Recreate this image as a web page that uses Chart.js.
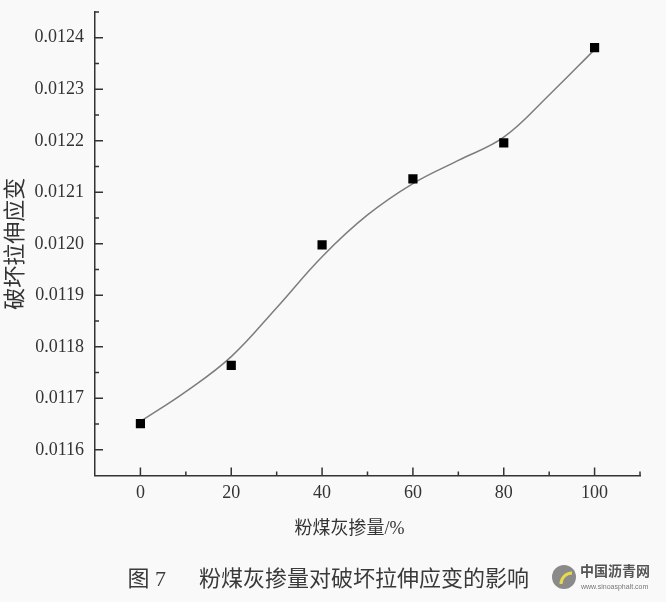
<!DOCTYPE html>
<html>
<head>
<meta charset="utf-8">
<script src="https://cdn.jsdelivr.net/npm/chart.js@4.4.1/dist/chart.umd.min.js"></script>
<style>
  html, body { margin: 0; padding: 0; background: #f9f9f9; }
  #box { width: 666px; height: 602px; }
</style>
</head>
<body>
<div id="box"><canvas id="strainChart"></canvas></div>
<script>
// 粉煤灰掺量 (%) 与破坏拉伸应变
const ashContent = [0, 20, 40, 60, 80, 100]
const strainValues = [0.011651, 0.011764, 0.011998, 0.012126, 0.012196, 0.012381]

// 图中平滑曲线的读数
const curveX = [0, 10, 20, 30, 40, 50, 60, 70, 80, 90, 100]
const curveValues = [
  0.011655, 0.011713, 0.011781, 0.011876, 0.011975, 0.012056, 0.012117,
  0.012162, 0.012207, 0.012289, 0.012377,
]

const xTicks = [0, 20, 40, 60, 80, 100]
const xMinorTicks = [10, 30, 50, 70, 90, 110]
const yTicks = [0.0116, 0.0117, 0.0118, 0.0119, 0.012, 0.0121, 0.0122, 0.0123, 0.0124]
const yMinorTicks = [0.01165, 0.01175, 0.01185, 0.01195, 0.01205, 0.01215, 0.01225, 0.01235, 0.01245]

const serif = "'Liberation Serif', 'Noto Sans CJK SC', serif"
const axisColor = '#333333'

// 刻度线朝内画
const innerTicks = {
  id: 'innerTicks',
  afterDraw(chart) {
    const { ctx, chartArea } = chart
    const xs = chart.scales.x
    const ys = chart.scales.y
    ctx.save()
    ctx.strokeStyle = axisColor
    ctx.lineWidth = 1.5
    ctx.beginPath()
    xTicks.forEach((v) => {
      const px = xs.getPixelForValue(v)
      ctx.moveTo(px, chartArea.bottom)
      ctx.lineTo(px, chartArea.bottom - 8)
    })
    xMinorTicks.forEach((v) => {
      const px = xs.getPixelForValue(v)
      ctx.moveTo(px, chartArea.bottom)
      ctx.lineTo(px, chartArea.bottom - 4)
    })
    yTicks.forEach((v) => {
      const py = ys.getPixelForValue(v)
      ctx.moveTo(chartArea.left, py)
      ctx.lineTo(chartArea.left + 8, py)
    })
    yMinorTicks.forEach((v) => {
      const py = ys.getPixelForValue(v)
      ctx.moveTo(chartArea.left, py)
      ctx.lineTo(chartArea.left + 4, py)
    })
    ctx.stroke()

    // 水印
    ctx.fillStyle = '#8a8a8a'
    ctx.beginPath()
    ctx.arc(564, 577, 12, 0, Math.PI * 2)
    ctx.fill()
    ctx.strokeStyle = '#e8d84a'
    ctx.lineWidth = 3
    ctx.beginPath()
    ctx.arc(572, 584, 11, Math.PI, Math.PI * 1.5)
    ctx.stroke()
    ctx.fillStyle = '#555'
    ctx.font = "bold 14px 'Noto Sans CJK SC'"
    ctx.textBaseline = 'middle'
    ctx.fillText('中国沥青网', 580, 571)
    ctx.font = "7px 'Liberation Sans'"
    ctx.fillStyle = '#777'
    ctx.fillText('www.sinoasphalt.com', 581, 587)
    ctx.restore()
  },
}

const ctx = document.getElementById('strainChart').getContext('2d')

new Chart(ctx, {
  type: 'scatter',
  data: {
    datasets: [
      {
        label: '测试值',
        data: ashContent.map((x, i) => ({ x: x, y: strainValues[i] })),
        pointStyle: 'rect',
        pointRadius: 6.5,
        pointHoverRadius: 6.5,
        backgroundColor: '#000',
        borderColor: '#000',
        borderWidth: 0,
        showLine: false,
        order: 1,
      },
      {
        label: '拟合曲线',
        data: curveX.map((x, i) => ({ x: x, y: curveValues[i] })),
        showLine: true,
        borderColor: '#7d7d7d',
        borderWidth: 1.5,
        pointRadius: 0,
        tension: 0.4,
        fill: false,
        order: 2,
      },
    ],
  },
  options: {
    responsive: true,
    maintainAspectRatio: false,
    animation: false,
    layout: {
      padding: { left: 0, right: 26, top: 12, bottom: 0 },
    },
    plugins: {
      legend: { display: false },
      tooltip: { enabled: false },
      title: {
        display: true,
        position: 'bottom',
        text: '   图 7\u3000  粉煤灰掺量对破坏拉伸应变的影响',
        color: '#3a3a3a',
        font: { family: serif, size: 22, weight: 'normal' },
        padding: { top: 6, bottom: 9 },
      },
    },
    scales: {
      x: {
        type: 'linear',
        min: -10,
        max: 110,
        afterBuildTicks: (scale) => {
          scale.ticks = xTicks.map((v) => ({ value: v }))
        },
        afterFit: (scale) => {
          scale.height = 85
          scale.paddingLeft = 0
          scale.paddingRight = 0
        },
        grid: { display: false, drawTicks: false },
        border: { display: true, color: axisColor, width: 1.5 },
        ticks: {
          color: '#333',
          padding: 7,
          font: { family: serif, size: 18 },
        },
        title: {
          display: true,
          text: '粉煤灰掺量/%\u3000\u3000',
          color: '#333',
          font: { family: serif, size: 18 },
          padding: { top: 0, bottom: 21 },
        },
      },
      y: {
        type: 'linear',
        min: 0.01155,
        max: 0.01245,
        afterBuildTicks: (scale) => {
          scale.ticks = yTicks.map((v) => ({ value: v }))
        },
        afterFit: (scale) => {
          scale.width = 95
          scale.paddingTop = 0
          scale.paddingBottom = 0
        },
        grid: { display: false, drawTicks: false },
        border: { display: true, color: axisColor, width: 1.5 },
        ticks: {
          color: '#333',
          padding: 11,
          font: { family: serif, size: 18 },
          callback: (value) => value.toFixed(4),
        },
        title: {
          display: true,
          text: '破坏拉伸应变',
          color: '#333',
          font: { family: serif, size: 22 },
          padding: { top: 3, bottom: 0 },
        },
      },
    },
  },
  plugins: [innerTicks],
})
</script>
</body>
</html>
